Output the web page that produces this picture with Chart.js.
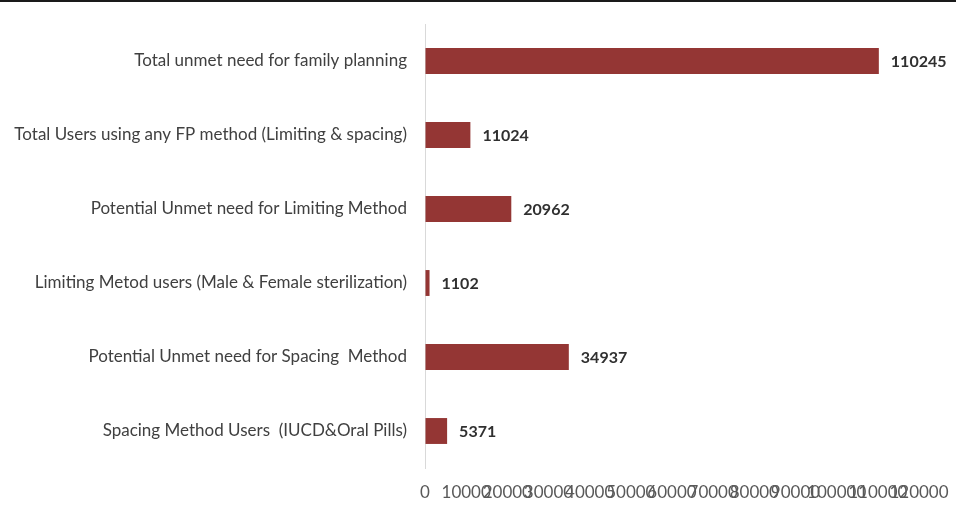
<!DOCTYPE html>
<html>
<head>
<meta charset="utf-8">
<script src="https://cdn.jsdelivr.net/npm/chart.js@4"></script>
<style>
  html,body{margin:0;padding:0;background:#fff;}
  #wrap{position:relative;width:956px;height:511px;}
  #topline{position:absolute;left:0;top:0;width:956px;height:2px;background:#1a1a1a;}
</style>
</head>
<body>
<div id="wrap">
  <div id="topline"></div>
  <canvas id="chart" width="956" height="511"></canvas>
</div>
<script>
const labels = [
  'Total unmet need for family planning',
  'Total Users using any FP method (Limiting & spacing)',
  'Potential Unmet need for Limiting Method',
  'Limiting Metod users (Male & Female sterilization)',
  'Potential Unmet need for Spacing  Method',
  'Spacing Method Users  (IUCD&Oral Pills)'
];
const values = [110245, 11024, 20962, 1102, 34937, 5371];
const xMax = 120000, xStep = 10000;

const FONT = 'Lato, "Open Sans", sans-serif';

// value labels right of each bar
const barLabels = {
  id:'barLabels',
  afterDatasetsDraw(chart){
    const ctx = chart.ctx;
    const meta = chart.getDatasetMeta(0);
    ctx.save();
    ctx.font = 'bold 16px ' + FONT;
    ctx.fillStyle = '#303030';
    ctx.textBaseline = 'middle';
    ctx.textAlign = 'left';
    meta.data.forEach((bar,i)=>{
      ctx.fillText(String(values[i]), bar.x + 12, bar.y + 1);
    });
    ctx.restore();
  }
};

// invisible tick marks used only as spacing between axis and labels
const hiddenGrid = (len)=>({display:true, drawOnChartArea:false, drawTicks:true,
  tickLength:len, color:'rgba(0,0,0,0)'});

new Chart(document.getElementById('chart'), {
  type:'bar',
  data:{labels, datasets:[{data:values, backgroundColor:'#943634', borderWidth:0,
    categoryPercentage:1, barPercentage:0.35}]},
  options:{
    indexAxis:'y',
    responsive:false,
    animation:false,
    layout:{padding:{top:24, right:37, bottom:0, left:0}},
    plugins:{legend:{display:false}, tooltip:{enabled:false}},
    scales:{
      x:{
        min:0, max:xMax,
        grid:hiddenGrid(14),
        border:{display:false},
        afterFit:(s)=>{ s.height = 43; },
        ticks:{stepSize:xStep, autoSkip:false, maxRotation:0, minRotation:0, padding:0,
          callback:(v)=>String(v),
          color:'#595959', font:{family:FONT, size:17}}
      },
      y:{
        grid:hiddenGrid(18),
        border:{display:true, color:'#d9d9d9', width:1},
        afterFit:(s)=>{ s.width = 425; },
        ticks:{padding:0, color:'#404040', font:{family:FONT, size:17}}
      }
    }
  },
  plugins:[barLabels]
});
</script>
</body>
</html>
